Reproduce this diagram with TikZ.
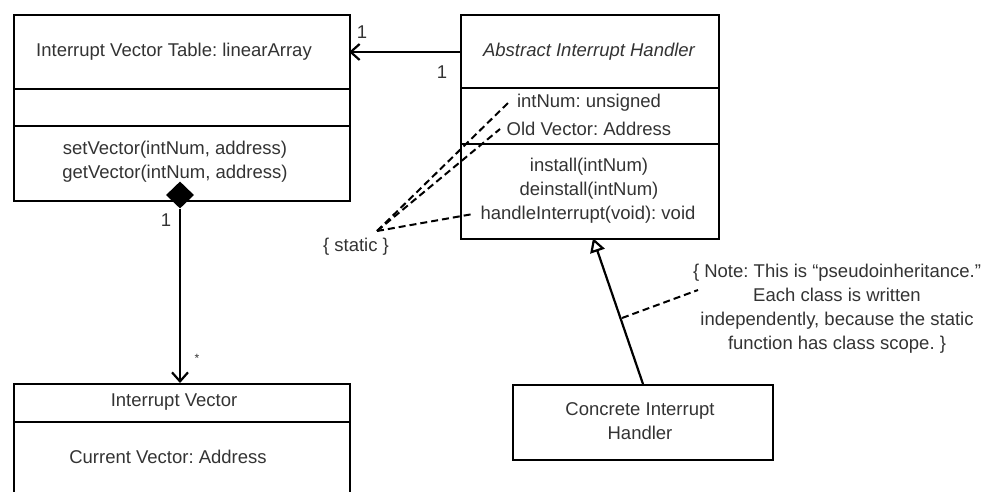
\documentclass[tikz,border=0pt]{standalone}
\usepackage{fontspec}
\setmainfont{Liberation Sans}
\usetikzlibrary{arrows.meta,shapes.geometric}
\begin{document}
\frenchspacing
\begin{tikzpicture}[x=1pt,y=-1pt,
  box/.style={draw, line width=2.2pt, anchor=north west, inner sep=0pt},
  lbl/.style={font=\fontsize{18.5}{24}\selectfont, text=black!80, inner sep=0pt},
  div/.style={line width=2.2pt},
  conn/.style={line width=2.2pt},
  dsh/.style={line width=2pt, dash pattern=on 7pt off 4pt}]
\useasboundingbox (0,0) rectangle (984,491);
% Interrupt Vector Table
\node[box, minimum width=336pt, minimum height=186pt] (ivt) at (13,14) {};
\draw[div] (13,89) -- (349,89);
\draw[div] (13,126) -- (349,126);
\node[lbl] (ivtname) at (174,52) {Interrupt Vector Table: linearArray};
\node[lbl, align=center] (ivtops) at (175,162) {setVector(intNum, address)\\getVector(intNum, address)};
% Abstract handler
\node[box, minimum width=258pt, minimum height=224pt] (aih) at (460,14) {};
\draw[div] (460,88) -- (718,88);
\draw[div] (460,144) -- (718,144);
\node[lbl, font=\fontsize{18.5}{24}\selectfont\itshape] (aihname) at (589,52) {Abstract Interrupt Handler};
\node[lbl] (attr1) at (589,103) {intNum: unsigned};
\node[lbl] (attr2) at (589,129) {Old Vector: Address};
\node[lbl] (op1) at (589,167) {install(intNum)};
\node[lbl] (op2) at (589,191) {deinstall(intNum)};
\node[lbl] (op3) at (588,215) {handleInterrupt(void): void};
% Interrupt Vector
\node[box, minimum width=336pt, minimum height=130pt] (iv) at (13,383) {};
\draw[div] (13,422) -- (349,422);
\node[lbl] (ivname) at (174,402) {Interrupt Vector};
\node[lbl] (ivattr) at (168,457) {Current Vector: Address};
% Concrete handler
\node[box, minimum width=260pt, minimum height=75pt] (cih) at (512,384) {};
\node[lbl, align=center] (cihname) at (640,421) {Concrete Interrupt\\Handler};
% static note
\node[lbl] (static) at (356,247) {\{ static \}};
\coordinate (sp) at (377,231);
\draw[dsh] (sp) -- (508,103);
\draw[dsh] (sp) -- (500,129);
\draw[dsh] (sp) -- (473,214);
% association
\draw[conn, -{Straight Barb[length=9pt,width=16pt,line width=2.2pt]}] (460,52) -- (349,52);
\node[lbl] (m1) at (362,32) {1};
\node[lbl] (m2) at (442,72) {1};
% composition
\node[diamond, fill=black, minimum width=28pt, minimum height=27pt, inner sep=0pt] (dia) at (180,195) {};
\draw[conn, -{Straight Barb[length=9pt,width=16pt,line width=2.2pt]}] (dia.south) -- (180,383);
\node[lbl] (m3) at (166,220) {1};
\node[lbl, font=\fontsize{12}{14}\selectfont] (m4) at (197,358) {*};
% generalization
\coordinate (gtop) at (593,238);
\coordinate (gbot) at (643,384);
\draw[conn, -{Triangle[open,length=14pt,width=15pt,line width=2.2pt]}] (gbot) -- (gtop);
% pseudo note
\node[lbl, align=center] (note) at (837,309) {\{ Note: This is “pseudoinheritance.”\\Each class is written\\independently, because the static\\function has class scope. \}};
\draw[dsh] (622,318) -- (698,290);
\end{tikzpicture}
\end{document}
